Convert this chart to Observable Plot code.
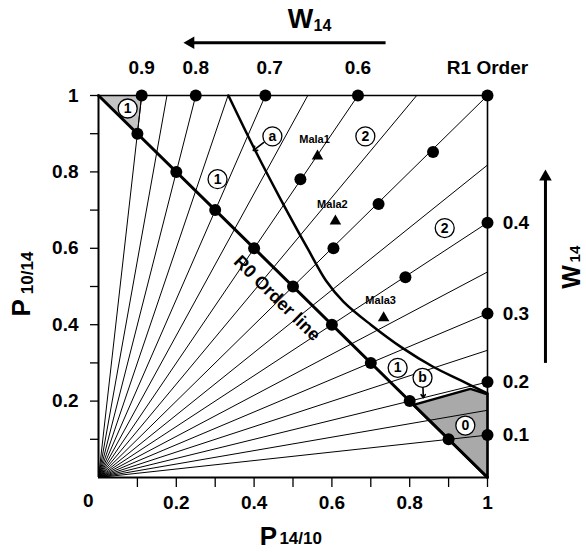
<!DOCTYPE html>
<html>
<head>
<meta charset="utf-8">
<script src="https://cdn.jsdelivr.net/npm/d3@7"></script>
<script src="https://cdn.jsdelivr.net/npm/@observablehq/plot@0.6"></script>
<style>
  html, body { margin: 0; padding: 0; background: #fff; }
  #chart svg { display: block; }
</style>
</head>
<body>
<div id="chart"></div>
<script>
// ---- data ----
// rays from the origin, ending on the top edge (W14 = 0.9 ... 0.5 by 0.05)
const rayTopX = [0.111, 0.176, 0.25, 0.333, 0.429, 0.538, 0.667, 0.818, 1.0];
// rays ending on the right edge (W14 = 0.45 ... 0.1 by 0.05)
const rayRightY = [0.818, 0.667, 0.538, 0.429, 0.333, 0.25, 0.176, 0.111];

// black points
const dotX = [0.111, 0.25, 0.429, 0.667, 1.0,  1.0, 1.0, 1.0, 1.0,
              0.1, 0.2, 0.3, 0.4, 0.5, 0.6, 0.7, 0.8, 0.9,
              0.519, 0.604, 0.72, 0.86, 0.789];
const dotY = [1.0, 1.0, 1.0, 1.0, 1.0,  0.667, 0.429, 0.25, 0.111,
              0.9, 0.8, 0.7, 0.6, 0.5, 0.4, 0.3, 0.2, 0.1,
              0.781, 0.6, 0.716, 0.852, 0.524];

// R0 order line
const r0X = [0, 1];
const r0Y = [1, 0];

// thick boundary curve
const curveX = [0.334, 0.40, 0.47, 0.54, 0.585, 0.63, 0.70, 0.78, 0.86, 0.93, 1.0];
const curveY = [1.0, 0.862, 0.725, 0.595, 0.515, 0.46, 0.40, 0.34, 0.29, 0.255, 0.22];

// shaded regions
const shadeTLx = [0, 0.111, 0.1, 0];
const shadeTLy = [1, 1, 0.9, 1];
const shadeBRx = [0.81, 0.956, 1.0, 1.0, 0.81];
const shadeBRy = [0.19, 0.232, 0.218, 0.0, 0.19];

// W14 labels along top and right
const topLabels = ["0.9", "0.8", "0.7", "0.6", "R1 Order"];
const topLabelX = [0.111, 0.25, 0.44, 0.667, 1.0];
const rightLabels = ["0.4", "0.3", "0.2", "0.1"];
const rightLabelY = [0.667, 0.429, 0.25, 0.111];

// circled region labels
const circLabels = ["1", "a", "2", "1", "2", "1", "b", "0"];
const circX = [0.075, 0.447, 0.686, 0.306, 0.89, 0.769, 0.833, 0.943];
const circY = [0.966, 0.893, 0.893, 0.781, 0.653, 0.287, 0.261, 0.136];

// populations
const malaNames = ["Mala1", "Mala2", "Mala3"];
const malaX = [0.563, 0.609, 0.733];
const malaY = [0.841, 0.671, 0.418];

// axis ticks
const xTicks = [0.1, 0.2, 0.3, 0.4, 0.5, 0.6, 0.7, 0.8, 0.9, 1];
const xTickLabels = [0.2, 0.4, 0.6, 0.8, 1];
const yTicks = [0.1, 0.2, 0.3, 0.4, 0.5, 0.6, 0.7, 0.8, 0.9, 1];
const yTickLabels = [0.2, 0.4, 0.6, 0.8, 1];

// ---- tables ----
const rays = [
  ...rayTopX.map(x => ({x1: 0, y1: 0, x2: x, y2: 1})),
  ...rayRightY.map(y => ({x1: 0, y1: 0, x2: 1, y2: y}))
];
const dots = dotX.map((x, i) => ({x, y: dotY[i]}));
const r0 = r0X.map((x, i) => ({x, y: r0Y[i]}));
const curve = curveX.map((x, i) => ({x, y: curveY[i]}));
const shadeTL = shadeTLx.map((x, i) => ({x, y: shadeTLy[i]}));
const shadeBR = shadeBRx.map((x, i) => ({x, y: shadeBRy[i]}));
const tops = topLabels.map((t, i) => ({t, x: topLabelX[i], y: 1.072}));
const rights = rightLabels.map((t, i) => ({t, x: 1.039, y: rightLabelY[i]}));
const circs = circLabels.map((t, i) => ({t, x: circX[i], y: circY[i]}));
const malas = malaNames.map((t, i) => ({t, x: malaX[i], y: malaY[i]}));

const FONT = "'Liberation Sans', Arial, Helvetica, sans-serif";

const chart = Plot.plot({
  width: 586,
  height: 552,
  marginLeft: 98,
  marginRight: 99,
  marginTop: 95,
  marginBottom: 75,
  style: {fontFamily: FONT, fontWeight: "bold", color: "#000", background: "#fff"},
  x: {domain: [0, 1]},
  y: {domain: [0, 1]},
  marks: [
    // shaded regions
    Plot.line(shadeTL, {x: "x", y: "y", fill: "#c4c4c4", stroke: "#000", strokeWidth: 1}),
    Plot.line(shadeBR, {x: "x", y: "y", fill: "#a9a9a9", stroke: "#000", strokeWidth: 2.5, strokeLinejoin: "miter"}),
    // rays
    Plot.link(rays, {x1: "x1", y1: "y1", x2: "x2", y2: "y2", stroke: "#000", strokeWidth: 1}),
    // frame
    Plot.ruleX([0], {y1: 0, y2: 1, stroke: "#000", strokeWidth: 2}),
    Plot.ruleY([0], {x1: 0, x2: 1, stroke: "#000", strokeWidth: 2}),
    Plot.ruleY([1], {x1: 0, x2: 1, stroke: "#000", strokeWidth: 1.6}),
    Plot.ruleX([1], {y1: 0, y2: 1, stroke: "#000", strokeWidth: 1.6}),
    // axes
    Plot.axisX({ticks: xTicks, tickSize: 10, text: null, strokeWidth: 1.3}),
    Plot.axisX({ticks: xTickLabels, tickSize: 0, tickPadding: 18, tickFormat: d => String(d),
                fontSize: 19, fontWeight: "bold", fontFamily: FONT}),
    Plot.axisY({ticks: yTicks, tickSize: 8, text: null, strokeWidth: 1.3}),
    Plot.axisY({ticks: yTickLabels, tickSize: 0, tickPadding: 20, tickFormat: d => String(d),
                fontSize: 19, fontWeight: "bold", fontFamily: FONT}),
    Plot.text(["0"], {x: -0.026, y: -0.06, text: d => d, fontSize: 19, fontWeight: "bold"}),
    // R0 order line
    Plot.line(r0, {x: "x", y: "y", stroke: "#000", strokeWidth: 3}),
    // boundary curve
    Plot.line(curve, {x: "x", y: "y", stroke: "#000", strokeWidth: 2.5, curve: "catmull-rom"}),
    // points
    Plot.dot(dots, {x: "x", y: "y", r: 6, fill: "#000"}),
    // labels along top/right
    Plot.text(tops, {x: "x", y: "y", text: "t", fontSize: 19, fontWeight: "bold"}),
    Plot.text(rights, {x: "x", y: "y", text: "t", textAnchor: "start", fontSize: 19, fontWeight: "bold"}),
    // R0 Order line label
    Plot.text(["R0 Order line"], {x: 0.459, y: 0.469, text: d => d, rotate: 44.5, fontSize: 18, fontWeight: "bold"}),
    // Mala populations
    Plot.dot(malas, {x: "x", y: "y", symbol: "triangle2", r: 5.5, fill: "#000"}),
    Plot.text(malas, {x: "x", y: "y", text: "t", dy: -17, dx: -3, fontSize: 11, fontWeight: "bold", fill: "#000"}),
    // pointer arrows for a and b
    Plot.arrow([{x1: 0.425, y1: 0.877, x2: 0.398, y2: 0.856}], {x1: "x1", y1: "y1", x2: "x2", y2: "y2", strokeWidth: 1.6, headLength: 8, headAngle: 70}),
    Plot.arrow([{x1: 0.834, y1: 0.238, x2: 0.835, y2: 0.209}], {x1: "x1", y1: "y1", x2: "x2", y2: "y2", strokeWidth: 1.6, headLength: 8, headAngle: 70}),
    // circled labels
    Plot.dot(circs, {x: "x", y: "y", r: 9.5, fill: "#fff", stroke: "#000", strokeWidth: 1.3}),
    Plot.text(circs, {x: "x", y: "y", text: "t", fontSize: 14, fontWeight: "bold"}),
    // W14 arrow on top
    Plot.link([{x1: 0.738, x2: 0.24, y: 1.138}], {x1: "x1", x2: "x2", y1: "y", y2: "y", stroke: "#000", strokeWidth: 3}),
    Plot.dot([{x: 0.237, y: 1.138}], {x: "x", y: "y", symbol: "triangle2", rotate: -90, r: 6, fill: "#000"}),
    Plot.text(["W"], {x: 0.519, y: 1.2, text: d => d, fontSize: 27, fontWeight: "bold"}),
    Plot.text(["14"], {x: 0.553, y: 1.183, text: d => d, textAnchor: "start", fontSize: 16, fontWeight: "bold"}),
    // W14 arrow on right
    Plot.link([{x: 1.149, y1: 0.30, y2: 0.79}], {x1: "x", x2: "x", y1: "y1", y2: "y2", stroke: "#000", strokeWidth: 3}),
    Plot.dot([{x: 1.149, y: 0.787}], {x: "x", y: "y", symbol: "triangle2", r: 6, fill: "#000"}),
    Plot.text(["W"], {x: 1.2185, y: 0.525, text: d => d, rotate: -90, fontSize: 25, fontWeight: "bold"}),
    Plot.text(["14"], {x: 1.226, y: 0.563, text: d => d, rotate: -90, textAnchor: "start", fontSize: 15, fontWeight: "bold"}),
    // axis titles
    Plot.text(["P"], {x: 0.437, y: -0.154, text: d => d, fontSize: 26, fontWeight: "bold"}),
    Plot.text(["14/10"], {x: 0.465, y: -0.161, text: d => d, textAnchor: "start", fontSize: 17, fontWeight: "bold"}),
    Plot.text(["P"], {x: -0.198, y: 0.444, text: d => d, rotate: -90, fontSize: 26, fontWeight: "bold"}),
    Plot.text(["10/14"], {x: -0.183, y: 0.48, text: d => d, rotate: -90, textAnchor: "start", fontSize: 17, fontWeight: "bold"})
  ]
});
document.getElementById("chart").appendChild(chart);
</script>
</body>
</html>
